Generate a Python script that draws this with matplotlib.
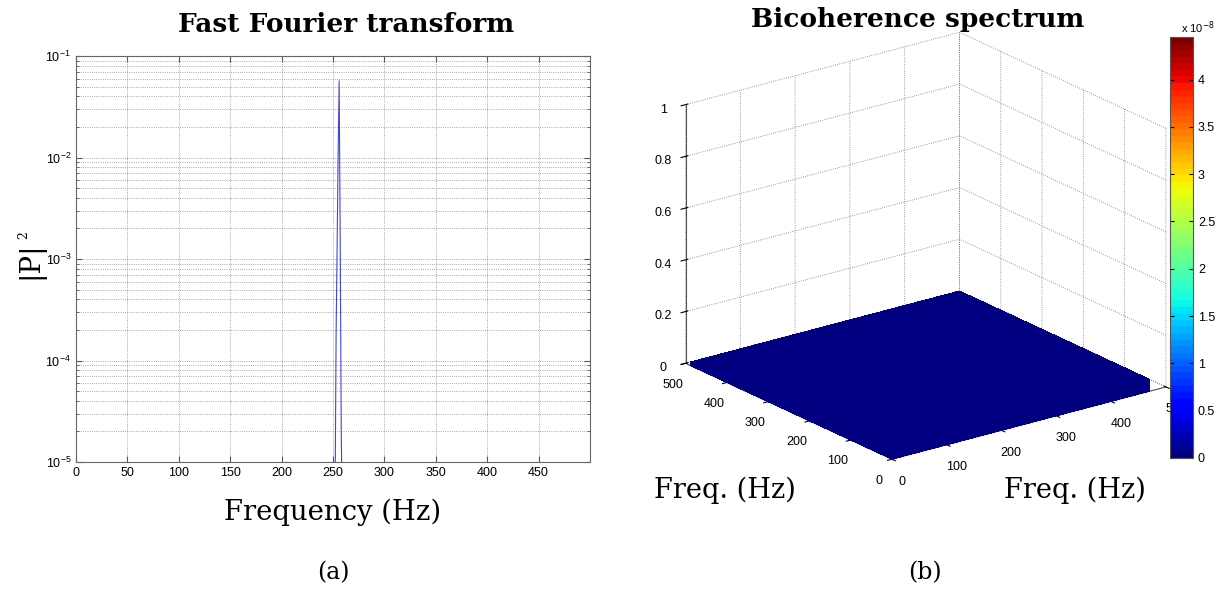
import numpy as np
import matplotlib
matplotlib.use('Agg')
import matplotlib.pyplot as plt
from matplotlib.ticker import FuncFormatter

plt.rcParams['font.family'] = ['Liberation Sans', 'DejaVu Sans']
plt.rcParams['grid.linestyle'] = ':'
plt.rcParams['grid.color'] = '#8c8c8c'
plt.rcParams['grid.linewidth'] = 0.6

# FFT power spectrum (|P|^2 vs frequency, Hz)
fft_freq = [0, 200, 240, 250, 251, 252, 253, 254, 255, 256, 257, 258, 259, 260, 270, 300, 499]
fft_power = [2e-7, 2e-7, 3e-7, 6e-7, 1.5e-6, 4e-6, 1.7e-4, 1.3e-3, 1.07e-2, 5.7e-2,
             1.6e-3, 2.1e-5, 3e-6, 1e-6, 3e-7, 2e-7, 2e-7]
fft_xticks = [0, 50, 100, 150, 200, 250, 300, 350, 400, 450]

# bicoherence surface (flat at zero), colour limit from the colorbar
bic_f1 = [0, 100, 200, 300, 400, 500]
bic_f2 = [0, 100, 200, 300, 400, 500]
bic_vals = [[0.0, 0.0, 0.0, 0.0, 0.0, 0.0],
            [0.0, 0.0, 0.0, 0.0, 0.0, 0.0],
            [0.0, 0.0, 0.0, 0.0, 0.0, 0.0],
            [0.0, 0.0, 0.0, 0.0, 0.0, 0.0],
            [0.0, 0.0, 0.0, 0.0, 0.0, 0.0],
            [0.0, 0.0, 0.0, 0.0, 0.0, 0.0]]
bic_peak = 4.45e-8
cbar_ticks = [0, 0.5e-8, 1e-8, 1.5e-8, 2e-8, 2.5e-8, 3e-8, 3.5e-8, 4e-8]

serif = 'DejaVu Serif'
W, H = 1230., 590.

fig = plt.figure(figsize=(12.3, 5.9), dpi=100)

################################################################
# (a) FFT
ax1 = fig.add_axes([76/W, 1-462/H, 514/W, 406/H])
ax1.semilogy(fft_freq, fft_power, color='#4646d2', lw=0.8)
ax1.set_xlim(0, 500)
ax1.set_ylim(1e-5, 1e-1)
ax1.set_xticks(fft_xticks)
ax1.grid(True, which='both')
ax1.tick_params(which='both', direction='in', top=True, right=True, labelsize=9,
                color='#555555', length=4)
ax1.tick_params(which='minor', length=2)
for s in ax1.spines.values():
    s.set_color('#666666')
    s.set_linewidth(0.8)

fig.text(346/W, 1-25/H, 'Fast Fourier transform', family=serif, weight='bold',
         fontsize=19, ha='center', va='center')
fig.text(30/W, 1-260/H, '|P|', family=serif, fontsize=20, rotation=90,
         ha='center', va='center')
fig.text(24/W, 1-235/H, '2', family=serif, fontsize=9, rotation=90,
         ha='center', va='center')
fig.text(333/W, 1-512/H, 'Frequency (Hz)', family=serif, fontsize=19.8,
         ha='center', va='center')
fig.text(333/W, 1-573/H, '(a)', family=serif, fontsize=17, ha='center', va='center')

################################################################
# (b) Bicoherence
ax2 = fig.add_axes([667/W, 1-482/H, 505/W, 460/H], projection='3d', proj_type='ortho')
X, Y = np.meshgrid(bic_f1, bic_f2)
Z = np.array(bic_vals)
surf = ax2.plot_surface(X, Y, Z, cmap=plt.get_cmap('jet', 64), vmin=0, vmax=bic_peak,
                        linewidth=0, antialiased=False)
ax2.view_init(elev=20.5, azim=-127)
ax2.set_box_aspect((1, 1, 0.805), zoom=1.178)
ax2.set_xlim(0, 500)
ax2.set_ylim(0, 500)
ax2.set_zlim(0, 1)
ax2.set_xticks([0, 100, 200, 300, 400, 500])
ax2.set_yticks([0, 100, 200, 300, 400, 500])
ax2.set_zticks([0, 0.2, 0.4, 0.6, 0.8, 1])
ax2.set_zticklabels(['0', '0.2', '0.4', '0.6', '0.8', '1'])
ax2.tick_params(labelsize=9, pad=0)
for axis in (ax2.xaxis, ax2.yaxis, ax2.zaxis):
    axis.set_pane_color((1, 1, 1, 1))
    axis._axinfo['grid'].update(linestyle=':', color='#777777', linewidth=0.6)
    axis.line.set_color('#555555')

fig.text(918/W, 1-20/H, 'Bicoherence spectrum', family=serif, weight='bold',
         fontsize=19, ha='center', va='center')
fig.text(725/W, 1-490/H, 'Freq. (Hz)', family=serif, fontsize=19.6, ha='center', va='center')
fig.text(1075/W, 1-490/H, 'Freq. (Hz)', family=serif, fontsize=19.6, ha='center', va='center')
fig.text(925/W, 1-573/H, '(b)', family=serif, fontsize=17, ha='center', va='center')

cax = fig.add_axes([1170/W, 1-458/H, 23/W, 421/H])
cb = fig.colorbar(surf, cax=cax, ticks=cbar_ticks)
cb.ax.yaxis.set_major_formatter(FuncFormatter(lambda v, p: '%g' % round(v/1e-8, 2)))
cb.ax.tick_params(direction='in', left=True, right=True, labelsize=9, length=3)
cb.outline.set_edgecolor('#555555')
fig.text(1198/W, 1-28/H, r'x 10$^{-8}$', fontsize=8, ha='center', va='center')

plt.savefig('out.png', dpi=100)
